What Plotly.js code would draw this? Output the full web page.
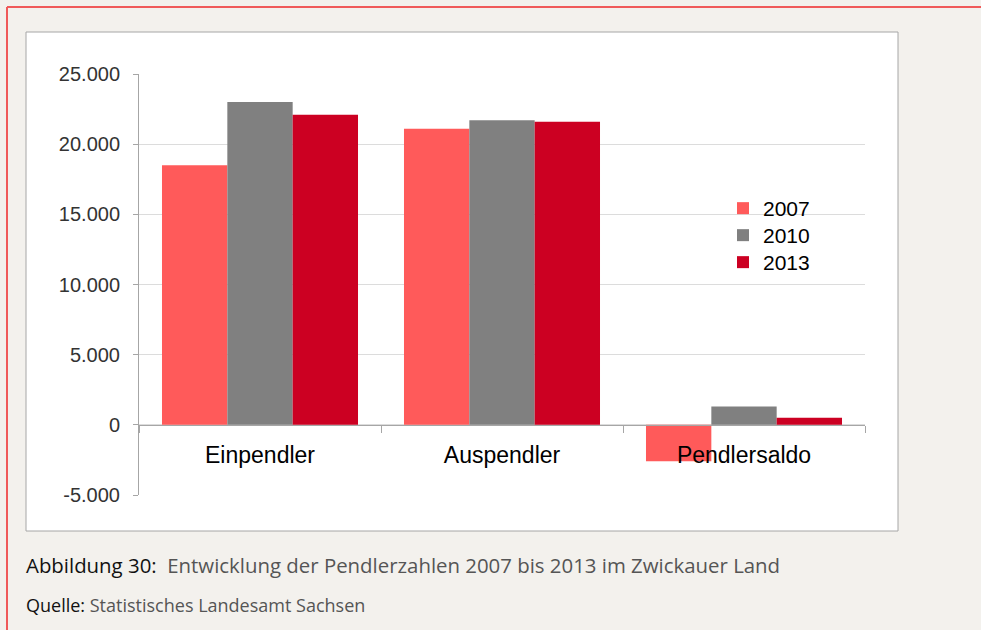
<!DOCTYPE html>
<html>
<head>
<meta charset="utf-8">
<script src="https://cdn.plot.ly/plotly-3.0.1.min.js"></script>
<style>
html,body{margin:0;padding:0;background:#f3f1ed;}
#chart{width:981px;height:630px;}
</style>
</head>
<body>
<div id="chart"></div>
<script>
var categories = ['Einpendler', 'Auspendler', 'Pendlersaldo'];
var years = ['2007', '2010', '2013'];
var values2007 = [18500, 21100, -2600];
var values2010 = [23000, 21700, 1300];
var values2013 = [22100, 21600, 500];
var colors = ['#ff5a5a', '#808080', '#cc0022'];
var yTickVals = [-5000, 0, 5000, 10000, 15000, 20000, 25000];
var yTickText = ['-5.000', '0', '5.000', '10.000', '15.000', '20.000', '25.000'];
var captionBold = 'Abbildung 30:';
var captionText = 'Entwicklung der Pendlerzahlen 2007 bis 2013 im Zwickauer Land';
var sourceBold = 'Quelle:';
var sourceText = 'Statistisches Landesamt Sachsen';

var W = 981, H = 630;
var L = 139, R = 865, T = 74, B = 495;
function px(x){ return (x - L) / (R - L); }
function py(y){ return (B - y) / (B - T); }

var legendIds = ['legend', 'legend2', 'legend3'];
var legendTops = [188, 215, 242];

var series = [values2007, values2010, values2013];
var traces = series.map(function(v, i){
  return {
    type: 'bar', x: categories, y: v, name: years[i],
    legend: legendIds[i],
    marker: {color: colors[i], line: {width: 0}},
    hoverinfo: 'x+y+name'
  };
});

var yMin = -5000, yMax = 25000;

var layout = {
  width: W, height: H,
  margin: {l: L, r: W - R, t: T, b: H - B, pad: 0},
  paper_bgcolor: '#f3f1ed',
  plot_bgcolor: 'rgba(0,0,0,0)',
  separators: ',.',
  barmode: 'group',
  bargap: 0.19,
  bargroupgap: 0,
  font: {family: 'Arial, "Liberation Sans", sans-serif', color: '#000'},
  xaxis: {
    type: 'category',
    anchor: 'free',
    position: (0 - yMin) / (yMax - yMin),
    showline: true, linecolor: '#a6a6a6', linewidth: 1,
    ticks: 'outside', tickson: 'boundaries', ticklen: 7, tickcolor: '#a6a6a6', tickwidth: 1,
    tickfont: {size: 23, color: '#000'},
    ticklabelstandoff: 10,
    showgrid: false, zeroline: false, fixedrange: true
  },
  yaxis: {
    range: [yMin, yMax],
    tickvals: yTickVals,
    ticktext: yTickText,
    showline: true, linecolor: '#a6a6a6', linewidth: 1,
    ticks: 'outside', ticklen: 5, tickcolor: '#a6a6a6',
    tickfont: {size: 20, color: '#333'},
    ticklabelstandoff: 9,
    showgrid: true, gridcolor: '#dcdcdc', gridwidth: 1,
    zeroline: false, fixedrange: true
  },
  showlegend: true,
  shapes: [
    {type: 'rect', xref: 'paper', yref: 'paper', x0: px(26), x1: px(898), y0: py(32), y1: py(531),
     fillcolor: '#ffffff', line: {color: '#a6a6a6', width: 1}, layer: 'below'},
    {type: 'line', xref: 'paper', yref: 'paper', x0: px(7), x1: px(981), y0: py(7), y1: py(7),
     line: {color: '#f05a5a', width: 2}},
    {type: 'line', xref: 'paper', yref: 'paper', x0: px(7), x1: px(7), y0: py(7), y1: py(630),
     line: {color: '#f05a5a', width: 2}}
  ],
  annotations: [
    {xref: 'paper', yref: 'paper', x: px(24), y: py(565), xanchor: 'left', yanchor: 'middle',
     showarrow: false, align: 'left',
     text: '<span style="color:#111">' + captionBold + '</span>  ' + captionText,
     font: {family: '"Open Sans", sans-serif', size: 20.4, color: '#555'}},
    {xref: 'paper', yref: 'paper', x: px(24), y: py(605), xanchor: 'left', yanchor: 'middle',
     showarrow: false, align: 'left',
     text: '<span style="color:#111">' + sourceBold + '</span> ' + sourceText,
     font: {family: '"Open Sans", sans-serif', size: 18, color: '#555'}}
  ]
};

legendIds.forEach(function(id, i){
  layout[id] = {
    x: px(723), y: py(legendTops[i]), xanchor: 'left', yanchor: 'top',
    bgcolor: 'rgba(0,0,0,0)', borderwidth: 0,
    font: {size: 21, color: '#000'},
    itemclick: false, itemdoubleclick: false
  };
});

Plotly.newPlot('chart', traces, layout, {displayModeBar: false});
</script>
</body>
</html>
